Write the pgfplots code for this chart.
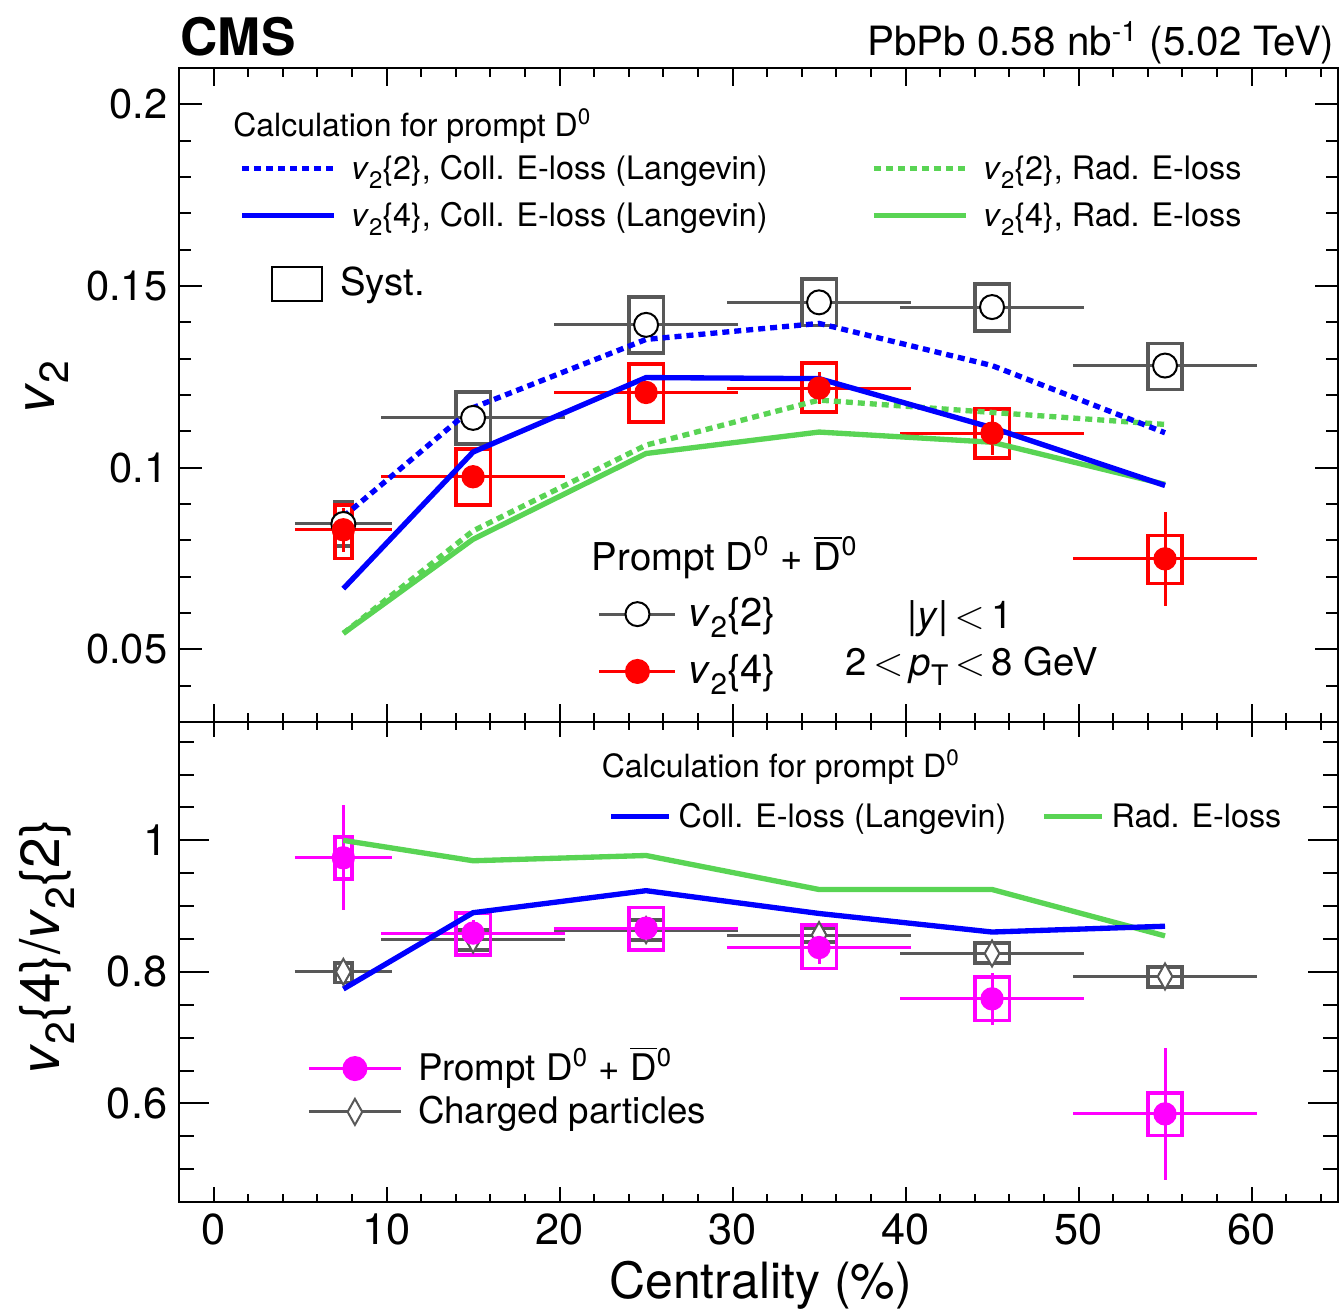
\documentclass[border=0pt]{standalone}
\usepackage{fontspec}
\setmainfont{TeX Gyre Heros}
\usepackage{pgfplots}
\usepackage{pgfplotstable}
\pgfplotsset{compat=1.18}

\definecolor{cmsblue}{RGB}{0,0,255}
\definecolor{cmsgreen}{RGB}{89,212,84}
\definecolor{cmsred}{RGB}{255,0,0}
\definecolor{cmsmag}{RGB}{255,0,255}
\definecolor{cmsgray}{RGB}{88,88,88}

\newcommand{\sub}[1]{\raisebox{-0.5ex}{\scalebox{0.74}{#1}}}
\newcommand{\vv}[1]{\textit{v}\sub{2}\{#1\}}
\newcommand{\Dz}{D\textsuperscript{0}}
\newcommand{\Dbz}{$\overline{\hbox{D}}$\textsuperscript{0}}

% top panel: v2{2} and v2{4} of prompt D0
\pgfplotstableread{
x    y      ex   ey
7.5  0.0845 2.5  0.001
15   0.1137 5    0.001
25   0.1393 5    0.001
35   0.1455 5    0.001
45   0.1442 5    0.001
55   0.1281 5    0.001
}\vtwotwo
\pgfplotstableread{
x    y      ex   ey
7.5  0.0829 2.5  0.006
15   0.0975 5    0.002
25   0.1207 5    0.002
35   0.1219 5    0.0043
45   0.1095 5    0.006
55   0.0749 5    0.013
}\vtwofour
\pgfplotstableread{
x    coll2  coll4  rad2   rad4
7.5  0.0865 0.0667 0.0544 0.0544
15   0.1165 0.1043 0.0826 0.0803
25   0.1353 0.1248 0.1062 0.1039
35   0.1397 0.1245 0.1186 0.1098
45   0.1281 0.1110 0.1152 0.1070
55   0.1096 0.0951 0.1119 0.0954
}\modeltop

% bottom panel: v2{4}/v2{2}
\pgfplotstableread{
x    y      ex   ey
7.5  0.9735 2.5  0.08
15   0.859  5    0.02
25   0.8665 5    0.015
35   0.837  5    0.025
45   0.759  5    0.04
55   0.584  5    0.1
}\ratioD
\pgfplotstableread{
x    y      ex   ey
7.5  0.800  2.5  0.002
15   0.849  5    0.002
25   0.8635 5    0.002
35   0.856  5    0.002
45   0.828  5    0.002
55   0.793  5    0.002
}\ratioCh
\pgfplotstableread{
x    coll   rad
7.5  0.774  1.000
15   0.890  0.969
25   0.9235 0.977
35   0.8888 0.9253
45   0.8606 0.9253
55   0.8694 0.8547
}\modelratio

\pgfplotsset{
  cms/.style={
    scale only axis, width=347.7pt,
    xmin=-2, xmax=65,
    xtick={0,10,...,60},
    minor xtick={-2,0,...,64},
    tick align=inside,
    axis line style={line width=0.7pt},
    every tick/.style={black, line width=0.6pt},
    /pgf/number format/assume math mode=true,
  },
  ghost/.style={
    scale only axis, width=347.7pt, xmin=-2, xmax=65,
    hide axis, legend cell align=left,
  },
  xerrs/.style={only marks, mark=none,
    error bars/.cd, x dir=both, x explicit,
    error bar style={line width=0.9pt, #1},
    error mark options={line width=0.9pt, mark size=1.6pt, #1}},
  yerrs/.style={only marks, mark=none,
    error bars/.cd, y dir=both, y explicit, error mark=none,
    error bar style={line width=0.9pt, #1}},
  box/.style={#1, line width=1.1pt, unbounded coords=jump, line cap=rect, line join=miter},
  chmark/.style={cmsgray, mark=diamond*, mark size=3.9pt,
    mark options={draw=cmsgray, fill=white, line width=0.6pt, xscale=0.75}},
}

\begin{document}
\begin{tikzpicture}
\useasboundingbox (-53.7pt,-32.4pt) rectangle (349.2pt,360.6pt);

% ================= top panel =================
\begin{axis}[cms, at={(0pt,144pt)}, anchor=south west, height=196.2pt,
  ymin=0.03, ymax=0.21,
  ytick={0.05,0.1,0.15,0.2}, yticklabels={0.05,0.1,0.15,0.2},
  minor ytick={0.03,0.04,...,0.21},
  xticklabels={},
  major tick length=7pt, minor tick length=3.5pt,
  xtick style={/pgfplots/major tick length=5.4pt, /pgfplots/minor tick length=2.7pt},
  tick label style={font=\fontsize{12.5}{14}\selectfont}]

\addplot[box=cmsgray] coordinates {
 (7,0.0784)(8,0.0784)(8,0.0907)(7,0.0907)(7,0.0784) (nan,nan)
 (14,0.1066)(16,0.1066)(16,0.1209)(14,0.1209)(14,0.1066) (nan,nan)
 (24,0.1315)(26,0.1315)(26,0.1470)(24,0.1470)(24,0.1315) (nan,nan)
 (34,0.1391)(36,0.1391)(36,0.1519)(34,0.1519)(34,0.1391) (nan,nan)
 (44,0.1377)(46,0.1377)(46,0.1505)(44,0.1505)(44,0.1377) (nan,nan)
 (54,0.1215)(56,0.1215)(56,0.1342)(54,0.1342)(54,0.1215)
};
\addplot[box=cmsred] coordinates {
 (7,0.0750)(8,0.0750)(8,0.0898)(7,0.0898)(7,0.0750) (nan,nan)
 (14,0.0898)(16,0.0898)(16,0.1051)(14,0.1051)(14,0.0898) (nan,nan)
 (24,0.1126)(26,0.1126)(26,0.1285)(24,0.1285)(24,0.1126) (nan,nan)
 (34,0.1154)(36,0.1154)(36,0.1288)(34,0.1288)(34,0.1154) (nan,nan)
 (44,0.1027)(46,0.1027)(46,0.1161)(44,0.1161)(44,0.1027) (nan,nan)
 (54,0.0681)(56,0.0681)(56,0.0813)(54,0.0813)(54,0.0681)
};

\addplot[xerrs=cmsgray] table[x=x, y=y, x error=ex] {\vtwotwo};
\addplot[xerrs=cmsred] table[x=x, y=y, x error=ex] {\vtwofour};
\addplot[yerrs=cmsred] table[x=x, y=y, y error=ey] {\vtwofour};

\addplot[only marks, mark=*, mark size=3.6pt,
  mark options={draw=black, fill=white, line width=0.6pt}] table[x=x, y=y] {\vtwotwo};
\addplot[only marks, mark=*, mark size=3.3pt, cmsred] table[x=x, y=y] {\vtwofour};

\addplot[cmsgreen, line width=1.6pt, dash pattern=on 2.1pt off 1.5pt] table[x=x, y=rad2] {\modeltop};
\addplot[cmsgreen, line width=1.6pt] table[x=x, y=rad4] {\modeltop};
\addplot[cmsblue, line width=1.6pt, dash pattern=on 2.1pt off 1.5pt] table[x=x, y=coll2] {\modeltop};
\addplot[cmsblue, line width=1.6pt] table[x=x, y=coll4] {\modeltop};

\node[anchor=base west, inner sep=0pt, font=\fontsize{9.6}{11}\selectfont]
  at (axis cs:1.1,0.1912) {Calculation for prompt \Dz};
\node[anchor=base west, inner sep=0pt, font=\fontsize{11.5}{13}\selectfont]
  at (axis cs:21.83,0.0717) {Prompt \Dz{} + \Dbz};
\node[anchor=base west, inner sep=0pt, font=\fontsize{11.5}{13}\selectfont]
  at (axis cs:40.07,0.0558) {|\textit{y}|\,$<$\,1};
\node[anchor=base west, inner sep=0pt, font=\fontsize{11.5}{13}\selectfont]
  at (axis cs:36.48,0.0427) {2\,$<$\,\textit{p}\sub{T}\,$<$\,8 GeV};
\end{axis}

% legend: model curves (top)
\begin{axis}[ghost, at={(0pt,144pt)}, anchor=south west, height=196.2pt,
  ymin=0.03, ymax=0.21, legend columns=2,
  legend image code/.code={\draw[#1] (0pt,0pt) -- (27.6pt,0pt);},
  legend style={draw=none, fill=none, inner sep=0pt,
    at={(axis cs:1.45,0.1758)}, anchor=west,
    font=\fontsize{9.7}{11}\selectfont, row sep=0.6pt,
    /tikz/every odd column/.append style={column sep=2.4pt},
    /tikz/every even column/.append style={column sep=29.1pt,
      inner sep=0pt, text height=8pt, text depth=2.5pt}}]
\addlegendimage{cmsblue, line width=1.6pt, dash pattern=on 2.1pt off 1.5pt}
\addlegendentry{\vv{2}, Coll. E-loss (Langevin)}
\addlegendimage{cmsgreen, line width=1.6pt, dash pattern=on 2.1pt off 1.5pt}
\addlegendentry{\vv{2}, Rad. E-loss}
\addlegendimage{cmsblue, line width=1.6pt}
\addlegendentry{\vv{4}, Coll. E-loss (Langevin)}
\addlegendimage{cmsgreen, line width=1.6pt}
\addlegendentry{\vv{4}, Rad. E-loss}
\end{axis}

% legend: syst. box
\begin{axis}[ghost, at={(0pt,144pt)}, anchor=south west, height=196.2pt,
  ymin=0.03, ymax=0.21,
  legend image code/.code={\draw[#1] (0pt,-5.1pt) rectangle (15pt,5.1pt);},
  legend style={draw=none, fill=none, inner sep=0pt,
    at={(axis cs:3.3,0.15055)}, anchor=west,
    font=\fontsize{11.5}{13}\selectfont,
    /tikz/every odd column/.append style={column sep=3pt},
    /tikz/every even column/.append style={inner sep=0pt, text height=8.5pt, text depth=0pt}}]
\addlegendimage{black, line width=0.6pt}
\addlegendentry{Syst.}
\end{axis}

% legend: data (top)
\begin{axis}[ghost, at={(0pt,144pt)}, anchor=south west, height=196.2pt,
  ymin=0.03, ymax=0.21,
  legend image code/.code={\draw[mark repeat=2, mark phase=2, #1]
    plot coordinates {(0pt,0pt) (11.4pt,0pt) (22.8pt,0pt)};},
  legend style={draw=none, fill=none, inner sep=0pt,
    at={(axis cs:22.18,0.0518)}, anchor=west,
    font=\fontsize{12}{14}\selectfont, row sep=2.7pt,
    /tikz/every odd column/.append style={column sep=1.5pt},
    /tikz/every even column/.append style={inner sep=0pt, text height=9pt, text depth=3pt}}]
\addlegendimage{cmsgray, line width=0.9pt, mark=*, mark size=3.6pt,
  mark options={draw=black, fill=white, line width=0.6pt}}
\addlegendentry{\vv{2}}
\addlegendimage{cmsred, line width=0.9pt, mark=*, mark size=3.3pt}
\addlegendentry{\vv{4}}
\end{axis}

% ================= bottom panel =================
\begin{axis}[cms, at={(0pt,0pt)}, anchor=south west, height=144pt,
  ymin=0.45, ymax=1.18,
  ytick={0.6,0.8,1}, yticklabels={0.6,0.8,1},
  minor ytick={0.45,0.5,...,1.15},
  major tick length=9pt, minor tick length=4.5pt,
  xtick style={/pgfplots/major tick length=4.6pt, /pgfplots/minor tick length=2.3pt},
  tick label style={font=\fontsize{13}{15}\selectfont}]

\addplot[box=cmsgray] coordinates {
 (7,0.784)(8,0.784)(8,0.814)(7,0.814)(7,0.784) (nan,nan)
 (14,0.833)(16,0.833)(16,0.864)(14,0.864)(14,0.833) (nan,nan)
 (24,0.848)(26,0.848)(26,0.879)(24,0.879)(24,0.848) (nan,nan)
 (34,0.845)(36,0.845)(36,0.867)(34,0.867)(34,0.845) (nan,nan)
 (44,0.813)(46,0.813)(46,0.844)(44,0.844)(44,0.813) (nan,nan)
 (54,0.777)(56,0.777)(56,0.807)(54,0.807)(54,0.777)
};
\addplot[xerrs=cmsgray] table[x=x, y=y, x error=ex] {\ratioCh};
\addplot[only marks, chmark] table[x=x, y=y] {\ratioCh};

\addplot[box=cmsmag] coordinates {
 (7,0.941)(8,0.941)(8,1.005)(7,1.005)(7,0.941) (nan,nan)
 (14,0.826)(16,0.826)(16,0.890)(14,0.890)(14,0.826) (nan,nan)
 (24,0.833)(26,0.833)(26,0.898)(24,0.898)(24,0.833) (nan,nan)
 (34,0.805)(36,0.805)(36,0.871)(34,0.871)(34,0.805) (nan,nan)
 (44,0.726)(46,0.726)(46,0.792)(44,0.792)(44,0.726) (nan,nan)
 (54,0.551)(56,0.551)(56,0.616)(54,0.616)(54,0.551)
};
\addplot[xerrs=cmsmag] table[x=x, y=y, x error=ex] {\ratioD};
\addplot[yerrs=cmsmag] table[x=x, y=y, y error=ey] {\ratioD};
\addplot[only marks, mark=*, mark size=3.3pt, cmsmag] table[x=x, y=y] {\ratioD};

\addplot[cmsgreen, line width=1.6pt] table[x=x, y=rad] {\modelratio};
\addplot[cmsblue, line width=1.6pt] table[x=x, y=coll] {\modelratio};

\node[anchor=base west, inner sep=0pt, font=\fontsize{9.6}{11}\selectfont]
  at (axis cs:22.4,1.095) {Calculation for prompt \Dz};
\end{axis}

% legend: model curves (bottom)
\begin{axis}[ghost, at={(0pt,0pt)}, anchor=south west, height=144pt,
  ymin=0.45, ymax=1.18, legend columns=2,
  legend image code/.code={\draw[#1] (0pt,0pt) -- (17.4pt,0pt);},
  legend style={draw=none, fill=none, inner sep=0pt,
    at={(axis cs:22.8,1.0363)}, anchor=west,
    font=\fontsize{9.7}{11}\selectfont,
    /tikz/every odd column/.append style={column sep=0pt},
    /tikz/every even column/.append style={column sep=8.6pt,
      inner sep=0pt, text height=8pt, text depth=2.5pt}}]
\addlegendimage{cmsblue, line width=1.6pt}
\addlegendentry{Coll. E-loss (Langevin)}
\addlegendimage{cmsgreen, line width=1.6pt}
\addlegendentry{Rad. E-loss}
\end{axis}

% legend: data (bottom)
\begin{axis}[ghost, at={(0pt,0pt)}, anchor=south west, height=144pt,
  ymin=0.45, ymax=1.18,
  legend image code/.code={\draw[mark repeat=2, mark phase=2, #1]
    plot coordinates {(0pt,0pt) (13.8pt,0pt) (27.6pt,0pt)};},
  legend style={draw=none, fill=none, inner sep=0pt,
    at={(axis cs:5.385,0.620)}, anchor=west,
    font=\fontsize{11}{13}\selectfont, row sep=-1pt,
    /tikz/every odd column/.append style={column sep=2.7pt},
    /tikz/every even column/.append style={inner sep=0pt, text height=8.5pt, text depth=3pt}}]
\addlegendimage{cmsmag, line width=0.9pt, mark=*, mark size=3.3pt}
\addlegendentry{Prompt \Dz{} + \Dbz}
\addlegendimage{line width=0.9pt, chmark}
\addlegendentry{Charged particles}
\end{axis}

% ================= labels outside =================
\node[anchor=base west, inner sep=0pt, font=\fontsize{15.5}{17}\selectfont\bfseries]
  at (0.3pt,344pt) {CMS};
\node[anchor=base east, inner sep=0pt, font=\fontsize{12.1}{14}\selectfont]
  at (346.8pt,343.8pt) {PbPb 0.58 nb\textsuperscript{-1} (5.02 TeV)};
\node[rotate=90, inner sep=0pt, font=\fontsize{16.5}{18}\selectfont]
  at (-39.6pt,244.5pt) {\textit{v}\sub{2}};
\node[rotate=90, inner sep=0pt, font=\fontsize{16.5}{18}\selectfont]
  at (-39.6pt,76.5pt) {\vv{4}/\vv{2}};
\node[anchor=base, inner sep=0pt, font=\fontsize{15}{17}\selectfont]
  at (174.45pt,-28.8pt) {Centrality (\%)};
\end{tikzpicture}
\end{document}
